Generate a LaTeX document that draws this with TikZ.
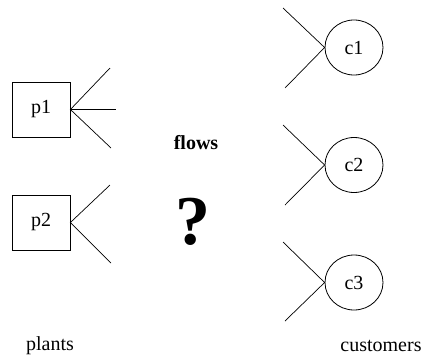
\documentclass[tikz,border=0pt]{standalone}
\usepackage{fontspec}
\setmainfont{Liberation Serif}
\usetikzlibrary{shapes.geometric}
\begin{document}
\begin{tikzpicture}[x=1pt,y=-1pt,
  every node/.style={font=\fontsize{20}{24}\selectfont},
  plant/.style={draw, line width=0.8pt, minimum width=58pt, minimum height=55pt, inner sep=0pt},
  customer/.style={draw, ellipse, line width=0.8pt, minimum width=58pt, minimum height=55pt, inner sep=0pt},
  flowline/.style={line width=0.7pt}]
\useasboundingbox (0,0) rectangle (425,362);

% plants
\node[plant] (p1) at (41,109.5) {p1};
\node[plant] (p2) at (41,222.5) {p2};

% customers
\node[customer] (c1) at (354,47.5) {c1};
\node[customer] (c2) at (354,165) {c2};
\node[customer] (c3) at (354,282.5) {c3};

% free ends of the outgoing flow stubs
\coordinate (p1a) at (110,68);
\coordinate (p1b) at (116,109.5);
\coordinate (p1c) at (111,148);
\coordinate (p2a) at (110,185);
\coordinate (p2b) at (111,263);

% free ends of the incoming flow stubs
\coordinate (c1a) at (283,8);
\coordinate (c1b) at (285,88);
\coordinate (c2a) at (283,125);
\coordinate (c2b) at (285,205);
\coordinate (c3a) at (283,242);
\coordinate (c3b) at (285,321);

\draw[flowline] (p1a) -- (p1.east) -- (p1c);
\draw[flowline] (p1.east) -- (p1b);
\draw[flowline] (p2a) -- (p2.east) -- (p2b);

\draw[flowline] (c1a) -- (c1.west) -- (c1b);
\draw[flowline] (c2a) -- (c2.west) -- (c2b);
\draw[flowline] (c3a) -- (c3.west) -- (c3b);

% labels
\node (flows) at (196,143) {\textbf{flows}};
\node[font=\fontsize{70}{76}\selectfont\bfseries, anchor=base] (q) at (193,244) {?};
\node (plants) at (50,346) {plants};
\node (customers) at (381,346) {customers};
\end{tikzpicture}
\end{document}
